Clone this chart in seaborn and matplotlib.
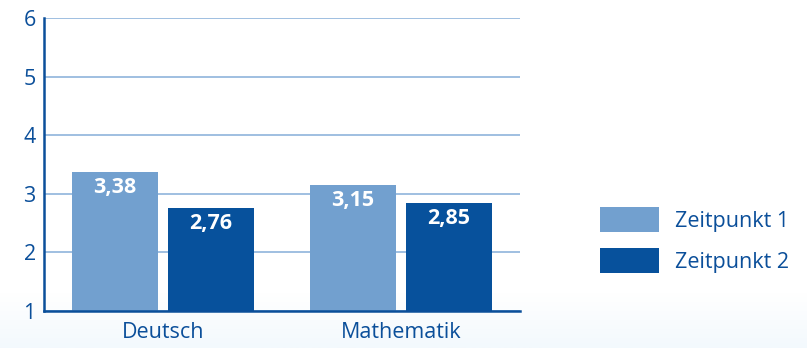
import matplotlib
matplotlib.use("Agg")
import matplotlib.pyplot as plt
import seaborn as sns
import pandas as pd
import numpy as np
from matplotlib.patches import Patch
from matplotlib.colors import LinearSegmentedColormap

categories = ["Deutsch", "Mathematik"]
series_names = ["Zeitpunkt 1", "Zeitpunkt 2"]
zeitpunkt1 = [3.38, 3.15]
zeitpunkt2 = [2.76, 2.85]
y_ticks = [1, 2, 3, 4, 5, 6]

light = "#72a0cf"
dark = "#07519c"
axis_col = "#0b4f9a"
grid_col = "#8fb4dc"

df = pd.DataFrame({
    "Fach": categories * 2,
    "Zeitpunkt": [series_names[0]] * 2 + [series_names[1]] * 2,
    "Wert": zeitpunkt1 + zeitpunkt2,
})

sns.set_theme(style="white")
plt.rcParams["font.family"] = ["Open Sans", "DejaVu Sans"]

fig = plt.figure(figsize=(8.07, 3.48), dpi=100)

# faint background band at the bottom
bg = fig.add_axes([0, 0, 1, 0.16], zorder=-10)
grad = np.linspace(1, 0, 50).reshape(-1, 1)
cmap = LinearSegmentedColormap.from_list("bg", ["#f3f9fd", "#ffffff"])
bg.imshow(grad, aspect="auto", cmap=cmap, extent=[0, 1, 0, 1], origin="upper")
bg.axis("off")

ax = fig.add_axes([44 / 807, 1 - 311 / 348, (520 - 44) / 807, (311 - 18) / 348])
ax.set_facecolor("none")

sns.barplot(data=df, x="Fach", y="Wert", hue="Zeitpunkt", order=categories,
            hue_order=series_names, palette=[light, dark], width=0.807, gap=0.105,
            saturation=1, linewidth=0, ax=ax, legend=False, zorder=3)

ax.set_ylim(1, 6)
ax.set_xlim(-0.5, 1.5)
ax.set_yticks(y_ticks)
ax.set_yticklabels([str(t) for t in y_ticks])
ax.yaxis.grid(True, color=grid_col, linewidth=1.2, zorder=0)
ax.set_axisbelow(True)
ax.set_xlabel("")
ax.set_ylabel("")

for s in ["top", "right"]:
    ax.spines[s].set_visible(False)
for s in ["left", "bottom"]:
    ax.spines[s].set_color(axis_col)
    ax.spines[s].set_linewidth(1.8)
    ax.spines[s].set_zorder(5)

fs = 15.5
ax.tick_params(axis="y", length=0, pad=6, labelsize=fs, labelcolor=axis_col)
ax.tick_params(axis="x", which="major", length=0, pad=8, labelsize=fs, labelcolor=axis_col)
ax.set_xticks([-0.5, 0.5, 1.5], minor=True)
ax.tick_params(axis="x", which="minor", direction="in", length=5, width=1.5, color=axis_col)

for cont in ax.containers:
    for bar in cont:
        h = bar.get_height()
        ax.annotate(f"{h:.2f}".replace(".", ","),
                    (bar.get_x() + bar.get_width() / 2, h),
                    xytext=(0, -11.5), textcoords="offset points",
                    ha="center", va="center", color="white",
                    fontsize=fs, fontweight="bold", zorder=6)

handles = [Patch(facecolor=light, edgecolor="none"), Patch(facecolor=dark, edgecolor="none")]
fig.legend(handles, series_names, loc="center left", bbox_to_anchor=(600 / 807, 1 - 240 / 348),
           frameon=False, fontsize=fs, labelcolor=axis_col, handlelength=2.75,
           handleheight=1.4, handletextpad=0.75, labelspacing=0.75,
           borderpad=0, borderaxespad=0)

fig.savefig("out.png", dpi=100)
